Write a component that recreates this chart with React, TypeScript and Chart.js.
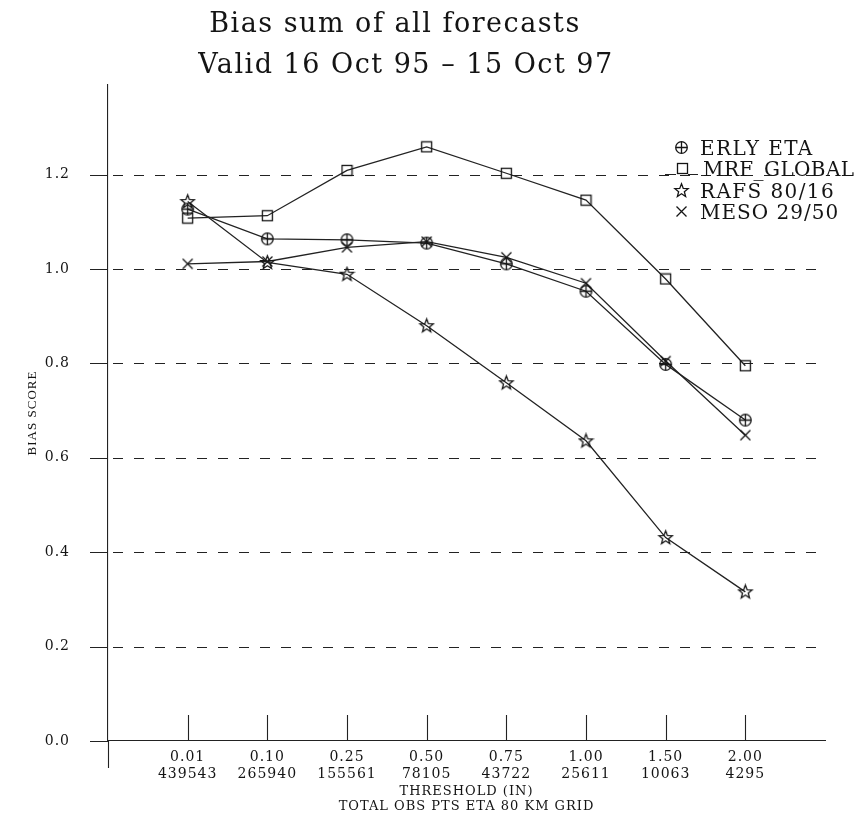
import React, { useEffect, useRef } from 'react';
import { Chart, registerables } from 'chart.js';

Chart.register(...registerables);

const thresholds = ['0.01', '0.10', '0.25', '0.50', '0.75', '1.00', '1.50', '2.00'];
const obsCounts = ['439543', '265940', '155561', '78105', '43722', '25611', '10063', '4295'];
const erlyEta = [1.127, 1.064, 1.062, 1.055, 1.011, 0.953, 0.798, 0.68];
const mrfGlobal = [1.108, 1.113, 1.209, 1.259, 1.203, 1.146, 0.979, 0.795];
const rafs = [1.143, 1.014, 0.989, 0.88, 0.759, 0.636, 0.431, 0.316];
const meso = [1.011, 1.016, 1.046, 1.058, 1.025, 0.97, 0.805, 0.648];
const yTicks = [0, 0.2, 0.4, 0.6, 0.8, 1.0, 1.2];
const seriesNames = ['ERLY ETA', 'MRF_GLOBAL', 'RAFS 80/16', 'MESO 29/50'];
const titleLines = ['Bias sum of all forecasts', 'Valid 16 Oct 95 \u2013 15 Oct 97'];
const xTitle = ['THRESHOLD (IN)', 'TOTAL OBS PTS ETA 80 KM GRID'];
const yTitle = 'BIAS SCORE';

const INK = '#141414';
const LINE = '#222222';
const SERIF = '"DejaVu Serif", serif';

function makeMarker(w: number, h: number, draw: (c: CanvasRenderingContext2D) => void) {
  const c = document.createElement('canvas');
  c.width = w;
  c.height = h;
  const ctx = c.getContext('2d') as CanvasRenderingContext2D;
  ctx.strokeStyle = INK;
  ctx.lineWidth = 1.3;
  draw(ctx);
  return c;
}

function buildMarkers() {
  const circlePlus = makeMarker(15, 15, (c) => {
    c.beginPath();
    c.arc(7.5, 7.5, 5.8, 0, Math.PI * 2);
    c.moveTo(1.7, 7.5);
    c.lineTo(13.3, 7.5);
    c.moveTo(7.5, 1.7);
    c.lineTo(7.5, 13.3);
    c.stroke();
  });
  const square = makeMarker(13, 13, (c) => {
    c.strokeRect(1.5, 1.5, 10, 10);
  });
  const star = makeMarker(17, 17, (c) => {
    c.beginPath();
    for (let k = 0; k < 10; k++) {
      const r = k % 2 === 0 ? 7 : 3;
      const a = -Math.PI / 2 + (k * Math.PI) / 5;
      const px = 8.5 + r * Math.cos(a);
      const py = 8.8 + r * Math.sin(a);
      if (k === 0) c.moveTo(px, py);
      else c.lineTo(px, py);
    }
    c.closePath();
    c.stroke();
  });
  const cross = makeMarker(13, 13, (c) => {
    c.beginPath();
    c.moveTo(1.5, 1.5);
    c.lineTo(11.5, 11.5);
    c.moveTo(11.5, 1.5);
    c.lineTo(1.5, 11.5);
    c.stroke();
  });
  return [circlePlus, square, star, cross];
}

export default function App() {
  const ref = useRef<HTMLCanvasElement | null>(null);

  useEffect(() => {
    document.body.style.margin = '0';
    document.body.style.background = '#ffffff';
    const canvas = ref.current;
    if (!canvas) return;
    const markers = buildMarkers();
    const series = [erlyEta, mrfGlobal, rafs, meso];

    const decor = {
      id: 'decor',
      beforeDraw(chart: any) {
        const ctx = chart.ctx;
        ctx.save();
        ctx.fillStyle = '#ffffff';
        ctx.fillRect(0, 0, chart.width, chart.height);
        ctx.restore();
        ctx.letterSpacing = '1px';
      },
      beforeDatasetsDraw(chart: any) {
        const { ctx, chartArea } = chart;
        const x = chart.scales.x;
        const y = chart.scales.y;
        ctx.save();
        ctx.strokeStyle = LINE;
        ctx.lineWidth = 1.1;
        // dashed horizontal grid
        ctx.setLineDash([10, 11]);
        yTicks.forEach((v) => {
          if (v === 0) return;
          const py = Math.round(y.getPixelForValue(v)) + 0.5;
          ctx.beginPath();
          ctx.moveTo(chartArea.left + 5, py);
          ctx.lineTo(chartArea.right - 3, py);
          ctx.stroke();
        });
        ctx.setLineDash([]);
        // solid tick marks left of the y axis
        ctx.beginPath();
        yTicks.forEach((v) => {
          const py = Math.round(y.getPixelForValue(v)) + 0.5;
          ctx.moveTo(chartArea.left - 18, py);
          ctx.lineTo(chartArea.left, py);
        });
        // upward tick marks on the x axis
        thresholds.forEach((_, i) => {
          const px = Math.round(x.getPixelForValue(i)) + 0.5;
          ctx.moveTo(px, chartArea.bottom);
          ctx.lineTo(px, chartArea.bottom - 26);
        });
        // axis extension below the x axis
        const ax = Math.round(chartArea.left) + 0.5;
        ctx.moveTo(ax, chartArea.bottom);
        ctx.lineTo(ax, chartArea.bottom + 27);
        ctx.stroke();
        ctx.restore();
      },
      afterDraw(chart: any) {
        const ctx = chart.ctx;
        ctx.save();
        ctx.fillStyle = INK;
        // title
        ctx.font = '27px ' + SERIF;
        ctx.letterSpacing = '1.5px';
        ctx.textAlign = 'center';
        ctx.textBaseline = 'alphabetic';
        ctx.fillText(titleLines[0], 395, 32);
        ctx.fillText(titleLines[1], 406, 73);
        // legend
        ctx.font = '20px ' + SERIF;
        ctx.textAlign = 'left';
        const rows = [147, 168, 190, 211];
        const spacing = ['1.4px', '0.4px', '1.4px', '1px'];
        rows.forEach((cy, i) => {
          const m = markers[i];
          const mx = i === 1 ? 682 : 681;
          ctx.drawImage(m, Math.round(mx - m.width / 2), Math.round(cy - m.height / 2));
          ctx.letterSpacing = spacing[i];
          ctx.fillText(seriesNames[i], i === 1 ? 703 : 700, cy + 7.5);
        });
        ctx.strokeStyle = LINE;
        ctx.lineWidth = 1.1;
        ctx.beginPath();
        ctx.moveTo(665, 174.5);
        ctx.lineTo(676, 174.5);
        ctx.moveTo(688, 174.5);
        ctx.lineTo(698, 174.5);
        ctx.stroke();
        ctx.restore();
      },
    };

    const datasets = series.map((vals, i) => ({
      label: seriesNames[i],
      data: vals.map((v, k) => ({ x: k, y: v })),
      borderColor: LINE,
      borderWidth: 1.3,
      backgroundColor: 'transparent',
      pointStyle: markers[i] as any,
      pointRadius: 6,
      pointHoverRadius: 6,
      tension: 0,
      fill: false,
    }));

    const chart = new Chart(canvas, {
      type: 'line',
      data: { datasets },
      options: {
        animation: false,
        responsive: false,
        maintainAspectRatio: false,
        events: [],
        layout: { padding: { top: 85, right: 41, left: 0, bottom: 0 } },
        plugins: {
          legend: { display: false },
          title: { display: false },
          tooltip: { enabled: false },
        },
        scales: {
          x: {
            type: 'linear',
            min: -1,
            max: 8,
            afterBuildTicks: (s: any) => {
              s.ticks = thresholds.map((_, i) => ({ value: i }));
            },
            afterFit: (s: any) => {
              s.height = 74;
            },
            ticks: {
              autoSkip: false,
              maxRotation: 0,
              minRotation: 0,
              padding: 8,
              color: INK,
              font: { family: SERIF, size: 14, lineHeight: 17 / 14 },
              callback: (v: any) => {
                const i = Math.round(Number(v));
                return [thresholds[i], obsCounts[i]];
              },
            },
            grid: { display: false, drawTicks: false },
            border: { display: true, color: LINE, width: 1.1 },
            title: {
              display: true,
              text: xTitle,
              color: INK,
              font: { family: SERIF, size: 13, lineHeight: 15 / 13 },
              padding: { top: 0, bottom: 0.5 },
            },
          },
          y: {
            type: 'linear',
            min: 0,
            max: 1.39,
            afterBuildTicks: (s: any) => {
              s.ticks = yTicks.map((v) => ({ value: v }));
            },
            afterFit: (s: any) => {
              s.width = 108;
            },
            ticks: {
              padding: 21,
              color: INK,
              font: { family: SERIF, size: 14 },
              callback: (v: any) => Number(v).toFixed(1),
            },
            grid: { display: true, drawOnChartArea: false, color: 'rgba(0,0,0,0)', tickLength: 17 },
            border: { display: true, color: LINE, width: 1.1 },
            title: {
              display: true,
              text: yTitle,
              color: INK,
              font: { family: '"Liberation Serif", serif', size: 13 },
              padding: { top: 25, bottom: 0 },
            },
          },
        },
      },
      plugins: [decor],
    });

    return () => {
      chart.destroy();
    };
  }, []);

  return (
    <div style={{ width: 866, height: 815 }}>
      <canvas ref={ref} width={866} height={815} style={{ display: 'block', width: 866, height: 815 }} />
    </div>
  );
}
